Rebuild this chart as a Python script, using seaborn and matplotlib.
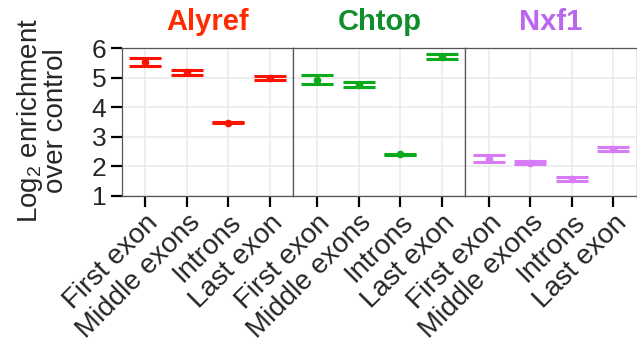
import numpy as np
import pandas as pd
import matplotlib
matplotlib.use("Agg")
import matplotlib.pyplot as plt
import seaborn as sns

proteins = ["Alyref", "Chtop", "Nxf1"]
regions = ["First exon", "Middle exons", "Introns", "Last exon"]
enrichment = {
    "Alyref": [5.53, 5.19, 3.48, 4.98],
    "Chtop":  [4.94, 4.76, 2.40, 5.72],
    "Nxf1":   [2.25, 2.12, 1.56, 2.57],
}
error = {
    "Alyref": [0.13, 0.08, 0.02, 0.07],
    "Chtop":  [0.14, 0.08, 0.03, 0.08],
    "Nxf1":   [0.12, 0.06, 0.06, 0.07],
}
title_colors = {"Alyref": "#FF2A00", "Chtop": "#0E8F2A", "Nxf1": "#BB66EE"}
mark_colors = {"Alyref": "#FF1100", "Chtop": "#0BAA1B", "Nxf1": "#D77CF6"}

rows = []
for p in proteins:
    for r, v, e in zip(regions, enrichment[p], error[p]):
        rows.append({"protein": p, "region": r, "value": v, "err": e})
df = pd.DataFrame(rows)

sns.set_theme(style="whitegrid")
plt.rcParams["font.family"] = ["Liberation Sans", "DejaVu Sans"]
plt.rcParams["mathtext.fontset"] = "custom"
plt.rcParams["mathtext.rm"] = "Liberation Sans"

g = sns.FacetGrid(df, col="protein", col_order=proteins, sharey=True,
                  height=3.43, aspect=0.62)
g.figure.set_size_inches(6.37, 3.43)
g.figure.set_dpi(100)


def draw_points(data, **kws):
    ax = plt.gca()
    p = data["protein"].iloc[0]
    pos = [regions.index(r) for r in data["region"]]
    ax.errorbar(pos, data["value"], yerr=data["err"], fmt="o",
                color=mark_colors[p], markersize=4.5, elinewidth=2.2,
                capsize=11.5, capthick=2.2, zorder=3)


g.map_dataframe(draw_points)

left, right, bottom, top = 121.7 / 637, 1.0, 1 - 195.7 / 343, 1 - 48.3 / 343
g.figure.subplots_adjust(left=left, right=right, bottom=bottom, top=top, wspace=0)

for i, (ax, p) in enumerate(zip(g.axes.flat, proteins)):
    ax.set_xlim(-0.57, 3.57)
    ax.set_ylim(1, 6)
    ax.set_xticks(range(len(regions)))
    ax.set_xticklabels(regions, rotation=45, ha="right", rotation_mode="anchor",
                       fontsize=20)
    ax.set_yticks([1, 2, 3, 4, 5, 6])
    ax.grid(True, color="#EBEBEB", linewidth=1.2)
    ax.set_axisbelow(True)
    ax.set_title(p, color=title_colors[p], fontsize=21, fontweight="bold", pad=13)
    ax.set_xlabel("")
    ax.set_ylabel("")
    for s in ax.spines.values():
        s.set_visible(True)
        s.set_color("#555555")
        s.set_linewidth(0.9)
    ax.tick_params(axis="x", bottom=True, length=8, width=1.6, color="black",
                   pad=2)
    ax.tick_params(axis="y", left=(i == 0), length=8, width=1.6, color="black",
                   labelsize=19, pad=3)

g.figure.text(0.066, (top + bottom) / 2 + 0.005, "Log$_2$ enrichment\nover control",
              rotation=90, ha="center", va="center", fontsize=20,
              multialignment="center", linespacing=0.9)

g.figure.savefig("out.png", dpi=100)
